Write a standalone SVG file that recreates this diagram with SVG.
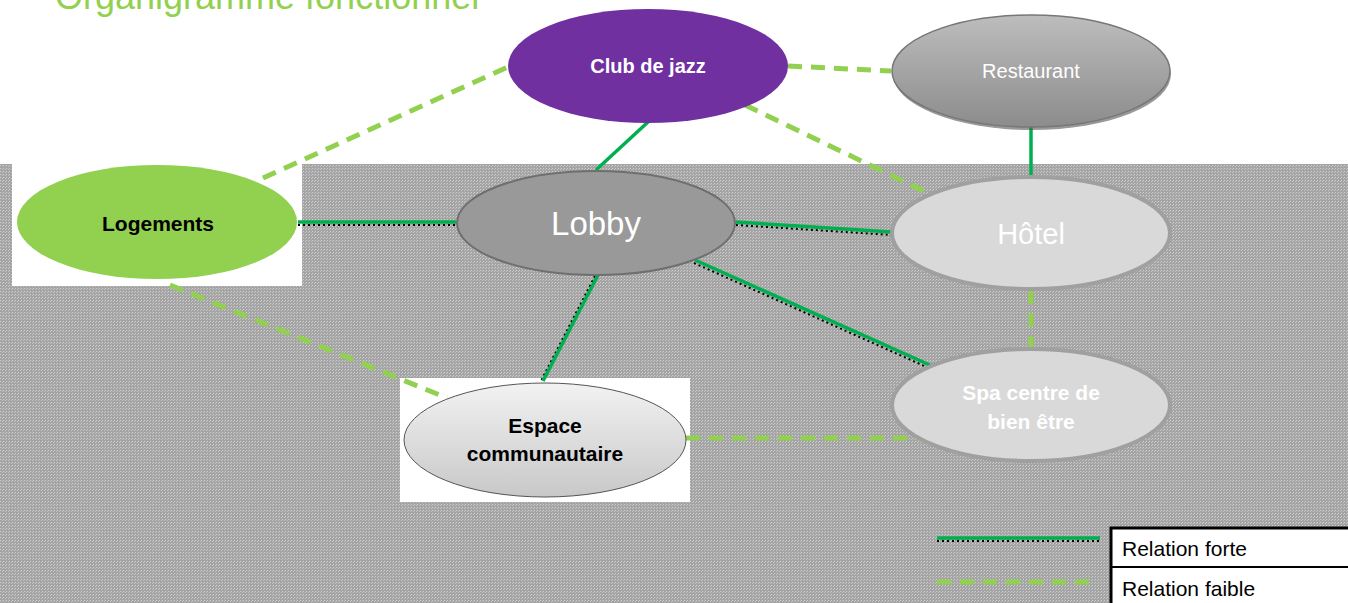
<svg xmlns="http://www.w3.org/2000/svg" width="1348" height="603" viewBox="0 0 1348 603">
<style>
.strong{stroke:#00b050;stroke-width:3.5;fill:none}
.sshadow{stroke:#000;stroke-width:2;stroke-dasharray:2 3;fill:none}
.weak{stroke:#92d050;stroke-width:5;stroke-dasharray:14 9;fill:none}
.lbl{font-family:"Liberation Sans",Arial,sans-serif;text-anchor:middle}
.b{font-weight:bold}
</style>
<defs>
<pattern id="dots" width="3" height="3" patternUnits="userSpaceOnUse">
<rect width="3" height="3" fill="#a4a4a4"/>
<rect width="1" height="1" fill="#d0d0d0"/>
<rect x="2" y="1" width="1" height="1" fill="#c4c4c4"/>
</pattern>
<linearGradient id="rest" x1="0" y1="0" x2="0" y2="1">
<stop offset="0" stop-color="#bdbdbd"/>
<stop offset="1" stop-color="#8c8c8c"/>
</linearGradient>
<linearGradient id="esp" x1="0" y1="0" x2="0" y2="1">
<stop offset="0" stop-color="#f2f2f2"/>
<stop offset="1" stop-color="#c8c8c8"/>
</linearGradient>
</defs>
<rect width="1348" height="603" fill="#fff"/>
<rect y="164" width="1348" height="439" fill="url(#dots)"/>
<text x="55" y="9" font-family="Liberation Sans,Arial,sans-serif" font-size="36" fill="#92d050">Organigramme fonctionnel</text>
<rect x="12" y="164" width="290" height="122" fill="#fff"/>
<rect x="400" y="378" width="290" height="124" fill="#fff"/>
<g id="connectors">
<line class="sshadow" x1="298" y1="225" x2="456" y2="225"/>
<line class="strong" x1="298" y1="222" x2="456" y2="222"/>
<line class="strong" x1="648" y1="122" x2="596" y2="170"/>
<line class="sshadow" x1="736" y1="225" x2="892" y2="235"/>
<line class="strong" x1="736" y1="222" x2="892" y2="232"/>
<line class="sshadow" x1="694" y1="263" x2="931" y2="369"/>
<line class="strong" x1="695" y1="260" x2="932" y2="366"/>
<line class="sshadow" x1="595" y1="276" x2="541" y2="381"/>
<line class="strong" x1="598" y1="275" x2="543" y2="381"/>
<line class="strong" x1="1031" y1="127" x2="1031" y2="177"/>
<line class="weak" x1="263" y1="178" x2="510" y2="66"/>
<line class="weak" x1="788" y1="66" x2="891" y2="71"/>
<line class="weak" x1="745" y1="105" x2="932" y2="195"/>
<line class="weak" x1="1031" y1="290" x2="1031" y2="349"/>
<line class="weak" x1="170" y1="285" x2="447" y2="398"/>
<line class="weak" x1="686" y1="438" x2="935" y2="438"/>
</g>
<g id="logements">
<ellipse cx="157" cy="222" rx="140" ry="57" fill="#92d050"/>
<text class="lbl b" x="158" y="231" font-size="21" fill="#000">Logements</text>
</g>
<g id="club">
<ellipse cx="648" cy="66" rx="140" ry="57" fill="#7030a0"/>
<text class="lbl b" x="648" y="73" font-size="20" fill="#fff">Club de jazz</text>
</g>
<g id="restaurant">
<ellipse cx="1032" cy="74" rx="139" ry="56" fill="#555" opacity="0.6"/>
<ellipse cx="1031" cy="71" rx="139" ry="56" fill="url(#rest)" stroke="#777" stroke-width="1.5"/>
<text class="lbl" x="1031" y="78" font-size="20" fill="#fff">Restaurant</text>
</g>
<g id="lobby">
<ellipse cx="596" cy="223" rx="139" ry="52" fill="#999" stroke="#6f6f6f" stroke-width="2"/>
<text class="lbl" x="596" y="235" font-size="33" fill="#fff">Lobby</text>
</g>
<g id="hotel">
<ellipse cx="1031" cy="233" rx="139" ry="56" fill="#d9d9d9" stroke="#a0a0a0" stroke-width="4"/>
<text class="lbl" x="1031" y="244" font-size="29" fill="#fff">Hôtel</text>
</g>
<g id="spa">
<ellipse cx="1031" cy="405" rx="139" ry="56" fill="#d9d9d9" stroke="#a0a0a0" stroke-width="4"/>
<text class="lbl b" x="1031" y="400" font-size="21" fill="#fff">Spa centre de</text>
<text class="lbl b" x="1031" y="429" font-size="21" fill="#fff">bien être</text>
</g>
<g id="espace">
<ellipse cx="545" cy="440" rx="141" ry="57" fill="url(#esp)" stroke="#555" stroke-width="1"/>
<text class="lbl b" x="545" y="433" font-size="21" fill="#000">Espace</text>
<text class="lbl b" x="545" y="461" font-size="21" fill="#000">communautaire</text>
</g>
<g id="legend">
<line class="sshadow" x1="937" y1="541" x2="1100" y2="541"/>
<line class="strong" x1="937" y1="538" x2="1100" y2="538"/>
<line class="weak" x1="937" y1="582" x2="1097" y2="582"/>
<rect x="1111" y="528" width="240" height="78" fill="#fff" stroke="#000" stroke-width="3"/>
<line x1="1111" y1="567" x2="1348" y2="567" stroke="#000" stroke-width="2"/>
<text x="1122" y="556" font-family="Liberation Sans,Arial,sans-serif" font-size="21" fill="#000">Relation forte</text>
<text x="1122" y="596" font-family="Liberation Sans,Arial,sans-serif" font-size="21" fill="#000">Relation faible</text>
</g>
</svg>
